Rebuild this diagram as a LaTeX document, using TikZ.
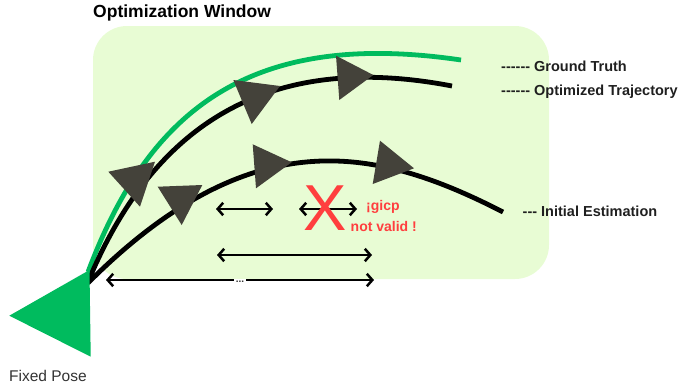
\documentclass[tikz,border=0pt]{standalone}
\usepackage{fontspec}
\setmainfont{Liberation Sans}
\usetikzlibrary{arrows.meta}
\definecolor{winbg}{RGB}{232,252,212}
\definecolor{gtgreen}{RGB}{0,187,94}
\definecolor{markgray}{RGB}{68,66,58}
\definecolor{errred}{RGB}{255,62,62}
\definecolor{labgray}{RGB}{51,51,51}
\newcommand{\hy}{-\kern0pt}
\tikzset{
  traj/.style={line width=4.8pt},
  gt/.style={line width=4.8pt, draw=gtgreen},
  marker/.style={fill=markgray, draw=none},
  span/.style={line width=2.5pt, {Straight Barb[length=5.5pt,width=12.5pt]}-{Straight Barb[length=5.5pt,width=12.5pt]}},
  legend/.style={anchor=west, inner sep=0pt, font=\bfseries\fontsize{14.5}{17}\selectfont, text=black!88},
  errtext/.style={anchor=west, inner sep=0pt, font=\bfseries\fontsize{14}{16}\selectfont, text=errred},
}
\begin{document}
\begin{tikzpicture}[x=1pt,y=-1pt]
\useasboundingbox (0,0) rectangle (679,389);
% optimization window
\fill[winbg, rounded corners=34pt] (93,26) rectangle (549,279);
\node[anchor=west, inner sep=0pt, font=\bfseries\fontsize{17.5}{20}\selectfont] (title) at (93,13) {Optimization Window};

% span arrows
\coordinate (a1l) at (216,209); \coordinate (a1r) at (273,209);
\coordinate (a2l) at (299,209); \coordinate (a2r) at (357,209);
\coordinate (a3l) at (217,255); \coordinate (a3r) at (372,255);
\coordinate (a4l) at (106,280); \coordinate (a4r) at (374,280);
\draw[span] (a1l) -- (a1r);
\draw[span] (a2l) -- (a2r);
\draw[span] (a3l) -- (a3r);
\draw[span] (a4l) -- (a4r);
\node[fill=white, inner xsep=2pt, inner ysep=2pt, font=\bfseries\fontsize{10}{11}\selectfont, text=labgray] (dots) at (240,282) {...};

% trajectories
\coordinate (start) at (88,282);
\coordinate (gtend) at (461,60);
\coordinate (optend) at (452,86);
\coordinate (iniend) at (503,212);
\draw[gt] (88,272) .. controls (148,112) and (247.5,28.5) .. (gtend);
\draw[traj] (start) .. controls (154,122.5) and (270,51) .. (optend);
\draw[traj] (88,283) .. controls (253,118) and (378,148) .. (iniend);

% pose markers
\fill[marker] (108.3,171.7) -- (155,161.7) -- (140,206.7) -- cycle;
\fill[marker] (233.3,80) -- (280,86) -- (251.7,124) -- cycle;
\fill[marker] (336,55.7) -- (373.3,75) -- (339.3,100) -- cycle;
\fill[marker] (157.7,186.7) -- (202.3,185) -- (181.7,225) -- cycle;
\fill[marker] (252.7,144.3) -- (291.7,162.3) -- (256,188.3) -- cycle;
\fill[marker] (380,140.7) -- (414,168.3) -- (372.7,184) -- cycle;

% fixed pose
\fill[gtgreen] (9.3,315.7) -- (89.5,270) -- (90.7,356.7) -- cycle;
\node[anchor=west, inner sep=0pt, font=\fontsize{15.5}{18}\selectfont, text=labgray] (fixed) at (9,376) {Fixed Pose};

% invalid gicp
\node[inner sep=0pt, font=\fontsize{65}{70}\selectfont, text=errred] (cross) at (325.5,208.5) {X};
\node[errtext] (gicp) at (366,207) {¡gicp};
\node[errtext] (nv) at (350.5,226) {not valid !};

% legend
\node[legend] (lgt) at (501,66) {\hy\hy\hy\hy\hy\hy{} Ground Truth};
\node[legend] (lopt) at (501,92) {\hy\hy\hy\hy\hy\hy{} Optimized Trajectory};
\node[legend] (linit) at (522.5,211) {\hy\hy\hy{} Initial Estimation};
\end{tikzpicture}
\end{document}
